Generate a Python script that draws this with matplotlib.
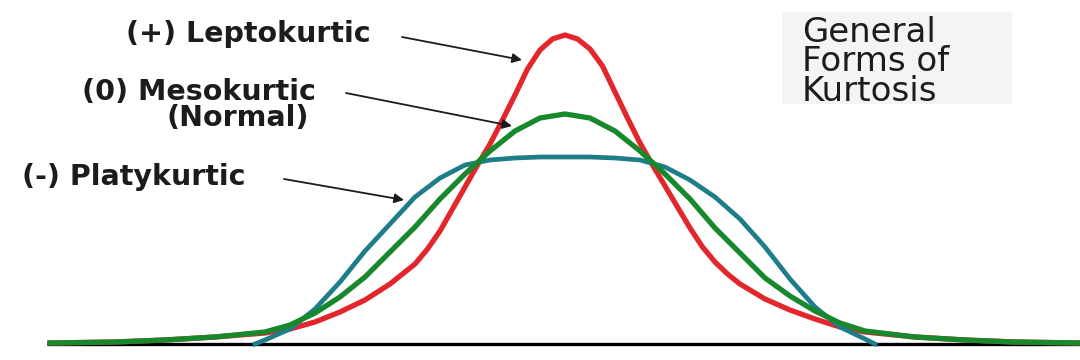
import matplotlib
matplotlib.use("Agg")
import matplotlib.pyplot as plt
from matplotlib.patches import Rectangle

# ---- data ----
lepto_x = [-5.15, -4.5, -4.0, -3.5, -3.0, -2.75, -2.5, -2.25, -2.0, -1.75, -1.625, -1.5,
           -1.375, -1.25, -1.125, -1.0, -0.875, -0.75, -0.625, -0.5, -0.375, -0.25, -0.125,
           0.0, 0.125, 0.25, 0.375, 0.5, 0.625, 0.75, 0.875, 1.0, 1.125, 1.25, 1.375,
           1.5, 1.625, 1.75, 2.0, 2.25, 2.5, 2.75, 3.0, 3.5, 4.0, 4.5, 5.15]
lepto_y = [0.01, 0.02, 0.04, 0.07, 0.11, 0.15, 0.22, 0.32, 0.44, 0.60, 0.70, 0.80,
           0.95, 1.13, 1.35, 1.57, 1.79, 2.00, 2.24, 2.49, 2.75, 2.94, 3.05,
           3.09, 3.05, 2.95, 2.78, 2.52, 2.26, 2.01, 1.79, 1.58, 1.37, 1.16, 0.97,
           0.82, 0.70, 0.60, 0.45, 0.34, 0.25, 0.17, 0.12, 0.07, 0.04, 0.02, 0.01]

meso_x = [-5.15, -4.5, -4.0, -3.5, -3.0, -2.75, -2.5, -2.25, -2.0, -1.75, -1.5, -1.25,
          -1.0, -0.75, -0.5, -0.25, 0.0, 0.25, 0.5, 0.75, 1.0, 1.25, 1.5, 1.75,
          2.0, 2.25, 2.5, 2.75, 3.0, 3.5, 4.0, 4.5, 5.15]
meso_y = [0.01, 0.02, 0.04, 0.07, 0.12, 0.19, 0.31, 0.47, 0.67, 0.92, 1.17, 1.45,
          1.70, 1.93, 2.13, 2.26, 2.30, 2.26, 2.13, 1.93, 1.70, 1.45, 1.16, 0.91,
          0.66, 0.48, 0.33, 0.21, 0.13, 0.07, 0.04, 0.02, 0.01]

platy_x = [-3.1, -3.0, -2.75, -2.5, -2.25, -2.0, -1.75, -1.5, -1.25, -1.0, -0.75, -0.5,
           -0.25, 0.0, 0.25, 0.5, 0.75, 1.0, 1.25, 1.5, 1.75, 2.0, 2.25, 2.5, 2.75,
           3.0, 3.1]
platy_y = [0.0, 0.04, 0.15, 0.35, 0.62, 0.93, 1.20, 1.47, 1.66, 1.79, 1.84, 1.86,
           1.87, 1.87, 1.87, 1.86, 1.84, 1.77, 1.64, 1.47, 1.25, 0.97, 0.65, 0.37, 0.17,
           0.05, 0.0]

labels = ["(+) Leptokurtic", "(0) Mesokurtic", "(Normal)", "(-) Platykurtic"]
title_lines = ["General", "Forms of", "Kurtosis"]

RED = "#e3262b"
GREEN = "#17882c"
TEAL = "#1d7e8a"
TXT = "#1c1c1c"

W, H = 1080, 360
fig = plt.figure(figsize=(10.8, 3.6), dpi=100)
ax = fig.add_axes([0, 0, 1, 1])
CX, BY, S = 565.0, 344.0, 100.0


def P(px, py):
    """pixel position -> data coordinates"""
    return ((px - CX) / S, (BY - py) / S)


ax.set_xlim(P(0, 0)[0], P(W, 0)[0])
ax.set_ylim(P(0, H)[1], P(0, 0)[1])
ax.axis("off")

# background box behind the title
x0, y0 = P(782, 104)
x1, y1 = P(1012, 12)
ax.add_patch(Rectangle((x0, y0), x1 - x0, y1 - y0, facecolor="#f4f4f4",
                       edgecolor="none", zorder=0))

# baseline
ax.plot([P(47, 0)[0], P(W, 0)[0]], [0, 0], color="black", lw=2.4,
        solid_capstyle="butt", zorder=1)

ax.plot(lepto_x, lepto_y, color=RED, lw=3.8, solid_joinstyle="round", zorder=2)
ax.plot(platy_x, platy_y, color=TEAL, lw=3.4, solid_joinstyle="round", zorder=3)
ax.plot(meso_x, meso_y, color=GREEN, lw=3.8, solid_joinstyle="round", zorder=4)

lab_font = dict(family="DejaVu Sans", fontweight="bold", fontsize=20.5, color=TXT)
arrow = dict(arrowstyle="-|>", color=TXT, lw=1.3, mutation_scale=14,
             shrinkA=0, shrinkB=0)

# (+) Leptokurtic
ax.annotate("", xy=P(522, 60), xytext=P(402, 37), arrowprops=arrow, zorder=5)
ax.text(*P(126, 42), labels[0], ha="left", va="baseline", **lab_font)
# (0) Mesokurtic (Normal)
ax.annotate("", xy=P(512, 126), xytext=P(346, 93), arrowprops=arrow, zorder=5)
ax.text(*P(82, 100), labels[1], ha="left", va="baseline", **lab_font)
ax.text(*P(238, 126), labels[2], ha="center", va="baseline", **lab_font)
# (-) Platykurtic
ax.annotate("", xy=P(404, 200), xytext=P(284, 179), arrowprops=arrow, zorder=5)
ax.text(*P(22, 185), labels[3], ha="left", va="baseline", **lab_font)

# title block (one multi-line text)
ax.text(*P(802, 16), "\n".join(title_lines), ha="left", va="top",
        family="DejaVu Sans", fontsize=24.5, color=TXT, linespacing=0.86)

fig.savefig("out.png", dpi=100, facecolor="white")
